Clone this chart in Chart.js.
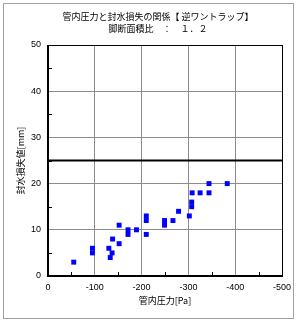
<!DOCTYPE html>
<html><head><meta charset="utf-8">
<script src="https://cdn.jsdelivr.net/npm/chart.js@4/dist/chart.umd.min.js"></script>
<style>html,body{margin:0;padding:0;background:#fff;}canvas{display:block;}</style>
</head><body>
<canvas id="c" width="300" height="323"></canvas>
<script>
const titleLines = ['管内圧力と封水損失の関係【 逆ワントラップ】', '脚断面積比　：　１．２'];
const xTitle = '管内圧力[Pa]';
const yTitle = '封水損失値[mm]';
const pressure = [-55, -95, -95, -130, -137, -133, -138, -152, -152, -171, -171, -189, -210, -210, -210, -249, -249, -267, -279, -302, -307, -307, -308, -325, -344, -344, -383];
const loss     = [3, 6, 5, 6, 5, 4, 8, 7, 11, 10, 9, 10, 13, 12, 9, 12, 11, 12, 14, 13, 16, 15, 18, 18, 18, 20, 20];
const threshold = 25;
const xRange = [-500, 0];
const yRange = [0, 50];

const points = pressure.map((p, i) => ({x: p, y: loss[i]}));
const jpFont = '"Noto Sans CJK JP", "Noto Sans", sans-serif';

const decor = {
  id: 'decor',
  beforeDraw(chart) {
    const ctx = chart.ctx;
    ctx.save();
    ctx.fillStyle = '#fff';
    ctx.fillRect(0, 0, chart.width, chart.height);
    ctx.strokeStyle = '#a0a0a0';
    ctx.lineWidth = 1;
    ctx.strokeRect(3.5, 3.5, 290, 315);
    ctx.restore();
  },
  afterDatasetsDraw(chart) {
    const ctx = chart.ctx;
    const a = chart.chartArea;
    const xs = chart.scales.x, ys = chart.scales.y;
    ctx.save();
    ctx.strokeStyle = '#000';
    ctx.lineWidth = 1;
    ctx.beginPath();
    for (let v = -50; v > -500; v -= 100) {
      const px = Math.round(xs.getPixelForValue(v)) + 0.5;
      ctx.moveTo(px, a.bottom); ctx.lineTo(px, a.bottom - 4);
    }
    for (let v = 5; v < 50; v += 10) {
      const py = Math.round(ys.getPixelForValue(v)) + 0.5;
      ctx.moveTo(a.left, py); ctx.lineTo(a.left + 4, py);
    }
    ctx.stroke();
    ctx.strokeStyle = '#000';
    ctx.lineWidth = 1;
    ctx.strokeRect(Math.round(a.left) + 0.5, Math.round(a.top) + 0.5, Math.round(a.right - a.left), Math.round(a.bottom - a.top));
    ctx.lineWidth = 2;
    ctx.beginPath();
    ctx.moveTo(a.left, a.top); ctx.lineTo(a.left, a.bottom); ctx.lineTo(a.right, a.bottom);
    ctx.stroke();
    ctx.restore();
  },
  afterDraw(chart) {
    const ctx = chart.ctx;
    ctx.save();
    ctx.fillStyle = '#000';
    ctx.textAlign = 'center';
    ctx.textBaseline = 'middle';
    ctx.font = '9px ' + jpFont;
    ctx.fillText(titleLines[0], 158, 17);
    ctx.fillText(titleLines[1], 158, 29);
    ctx.restore();
  }
};

new Chart(document.getElementById('c'), {
  data: {
    datasets: [
      {
        type: 'scatter',
        data: points,
        pointStyle: 'rect',
        pointRadius: 3.5,
        pointHoverRadius: 3.5,
        backgroundColor: '#0000ff',
        borderWidth: 0,
        order: 2
      },
      {
        type: 'line',
        data: [{x: xRange[0], y: threshold}, {x: xRange[1], y: threshold}],
        borderColor: '#000',
        borderWidth: 2,
        pointRadius: 0,
        order: 1
      }
    ]
  },
  options: {
    responsive: false,
    animation: false,
    devicePixelRatio: 1,
    layout: {padding: {top: 45, right: 18, left: 0, bottom: 0}},
    plugins: {legend: {display: false}, tooltip: {enabled: false}, title: {display: false}},
    scales: {
      x: {
        type: 'linear',
        reverse: true,
        min: xRange[0], max: xRange[1],
        afterFit(s) { s.height = 47; },
        grid: {color: '#8c8c8c', lineWidth: 1, drawTicks: false},
        border: {display: false},
        ticks: {stepSize: 100, padding: 6, color: '#000', font: {size: 9, family: '"Liberation Sans", Arial, sans-serif'}, maxRotation: 0,
          callback: v => String(v)},
        title: {display: true, text: xTitle, color: '#000', font: {size: 9, family: jpFont}, padding: 17}
      },
      y: {
        type: 'linear',
        min: yRange[0], max: yRange[1],
        afterFit(s) { s.width = 48; },
        grid: {color: '#8c8c8c', lineWidth: 1, drawTicks: false},
        border: {display: false},
        ticks: {stepSize: 10, padding: 7, color: '#000', font: {size: 9, family: '"Liberation Sans", Arial, sans-serif'}},
        title: {display: true, text: yTitle, color: '#000', font: {size: 9, family: jpFont}, padding: {top: 15, bottom: 0}}
      }
    }
  },
  plugins: [decor]
});
</script>
</body></html>
